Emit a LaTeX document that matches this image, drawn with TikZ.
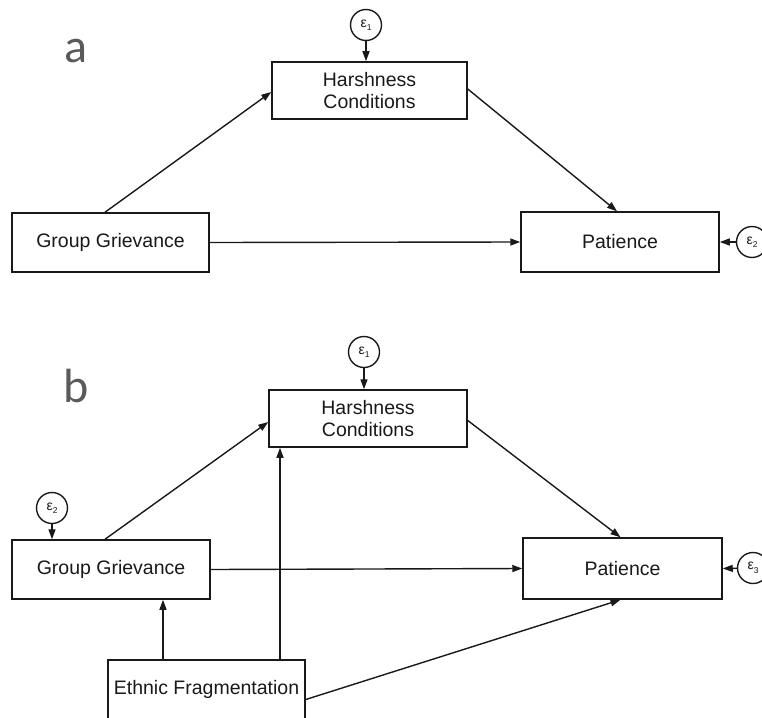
\documentclass[tikz,border=0pt]{standalone}
\usepackage{fontspec}
\setmainfont{Liberation Sans}
\newfontfamily\labfont{Carlito}
\usetikzlibrary{arrows.meta,calc}
\definecolor{labgray}{RGB}{90,90,90}
\definecolor{ink}{RGB}{25,25,25}
\tikzset{
  box/.style={draw=ink, line width=1.5pt, inner sep=0pt, align=center, text=ink,
    font=\fontsize{19.5}{22.5}\selectfont},
  err/.style={draw=ink, circle, line width=1.4pt, minimum size=31pt, inner sep=0pt, text=ink},
  path/.style={draw=ink, line width=1.4pt, -{Triangle[length=10pt,width=7pt]}},
  panel/.style={font=\labfont\fontsize{48}{48}\selectfont, text=labgray, anchor=base west, inner sep=0pt}
}
\newcommand{\epsl}[1]{{\fontsize{14}{14}\selectfont ε\raisebox{-3.5pt}{\fontsize{8.5}{8.5}\selectfont #1}}}
\begin{document}
\begin{tikzpicture}[x=1pt,y=-1pt]
\useasboundingbox (0,0) rectangle (762,717);
\clip (0,0) rectangle (762,717);
% panel labels
\node[panel] (la) at (64,63) {a};
\node[panel] (lb) at (63,402) {b};
% ---------- panel a ----------
\node[box, minimum width=195pt, minimum height=57pt] (Ha) at (369.5,90.5) {Harshness\\Conditions};
\node[box, minimum width=197pt, minimum height=59pt] (GGa) at (110.5,242.5) {Group Grievance};
\node[box, minimum width=198pt, minimum height=60pt] (Pa) at (620,242) {Patience};
\node[err] (e1a) at (366,25) {\epsl{1}};
\node[err] (e2a) at (752,242) {\epsl{2}};
\draw[path] (e1a) -- (e1a |- Ha.north);
\draw[path] (e2a) -- (Pa.east);
\draw[path] ([xshift=-5.5pt]GGa.north) -- ([yshift=-1.5pt]Ha.west);
\draw[path] ([yshift=1.5pt]Ha.east) -- ([xshift=-3pt]Pa.north);
\draw[path] (GGa.east) -- (Pa.west);
% ---------- panel b ----------
\node[box, minimum width=198pt, minimum height=57pt] (Hb) at (368,418.5) {Harshness\\Conditions};
\node[box, minimum width=198pt, minimum height=59pt] (GGb) at (111,569.5) {Group Grievance};
\node[box, minimum width=199pt, minimum height=61pt] (Pb) at (622.5,568.5) {Patience};
\node[box, minimum width=197pt, minimum height=59pt] (EF) at (206.5,689.5) {Ethnic Fragmentation};
\node[err] (e1b) at (364,352) {\epsl{1}};
\node[err] (e2b) at (52,508) {\epsl{2}};
\node[err] (e3b) at (753,568) {\epsl{3}};
\draw[path] (e1b) -- (e1b |- Hb.north);
\draw[path] (e2b) -- (e2b |- GGb.north);
\draw[path] (e3b) -- (Pb.east);
\draw[path] ([xshift=-6pt]GGb.north) -- ([yshift=-3.5pt]Hb.west);
\draw[path] ([yshift=-2pt]Hb.east) -- ([xshift=-2pt]Pb.north);
\draw[path] (GGb.east) -- (Pb.west);
\draw[path] ([xshift=-43.5pt]EF.north) -- ([xshift=-43.5pt]EF.north |- GGb.south);
\draw[path] ([xshift=73.5pt]EF.north) -- ([xshift=73.5pt]EF.north |- Hb.south);
\draw[path] ([yshift=-10pt]EF.east) -- ([xshift=-2pt]Pb.south);
\end{tikzpicture}
\end{document}
